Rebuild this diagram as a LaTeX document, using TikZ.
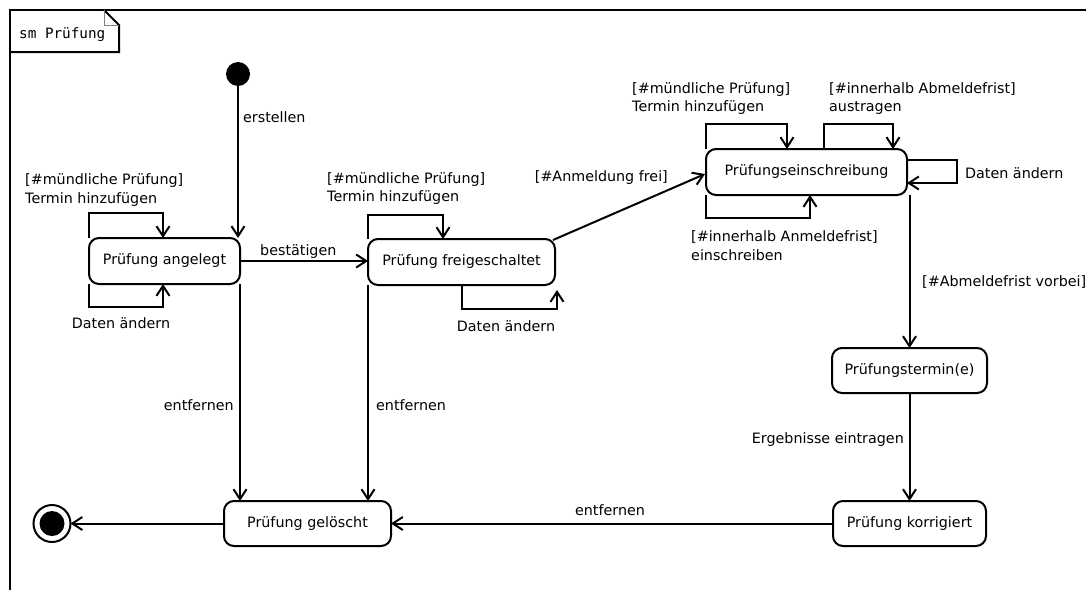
\documentclass[tikz,border=0pt]{standalone}
\usepackage{fontspec}
\setmainfont{DejaVu Sans}
\newfontfamily\tagfont{DejaVu Sans Mono}
\usetikzlibrary{arrows.meta,calc}
\begin{document}
\begin{tikzpicture}[x=1pt,y=-1pt,
  font=\fontsize{14.3}{18.5}\selectfont,
  state/.style={draw, line width=2pt, rounded corners=10pt, outer sep=0pt, inner sep=0pt, minimum height=46pt},
  arr/.style={line width=2pt, -{Straight Barb[length=10pt,width=13pt]}},
  lbl/.style={inner sep=0pt, align=left},
]
\useasboundingbox (0,0) rectangle (1086,590);
% frame
\draw[line width=2.5pt] (10,590) -- (10,10) -- (1086,10);
\draw[line width=2pt] (10,52) -- (119,52) -- (119,25) -- (104,10);
\draw[line width=0.8pt, gray] (104,10) -- (104,25) -- (119,25);
\node[anchor=west, inner sep=0pt, font=\tagfont\fontsize{14.3}{17}\selectfont] (tag) at (19,35) {sm Prüfung};

% states
\node[circle, fill, inner sep=0pt, minimum size=24pt] (ini) at (238,74) {};
\node[state, minimum width=151pt] (ang) at (164.5,261) {Prüfung angelegt};
\node[state, minimum width=187pt] (frei) at (461.5,262) {Prüfung freigeschaltet};
\node[state, minimum width=201pt] (ein) at (806.5,172) {Prüfungseinschreibung};
\node[state, minimum width=155pt, minimum height=45pt] (ter) at (909.5,370.5) {Prüfungstermin(e)};
\node[state, minimum width=153pt, minimum height=45pt] (kor) at (909.5,523.5) {Prüfung korrigiert};
\node[state, minimum width=167pt, minimum height=45pt] (gel) at (307.5,523.5) {Prüfung gelöscht};
\node[circle, draw, line width=2pt, minimum size=37pt, inner sep=0pt, outer sep=0pt] (fin) at (52,523.5) {};
\fill (fin.center) circle[radius=12.5pt];

% transitions
\draw[arr] (ini.south) -- (ini.south |- ang.north);
\draw[arr] (ang.east) -- (ang.east -| frei.west);
\draw[arr] (ang.south east) -- (ang.south east |- gel.north);
\draw[arr] (frei.south west) -- (frei.south west |- gel.north);
\draw[arr] ($(frei.north east)+(-2,1)$) -- ($(ein.west)+(-1,2)$);
\draw[arr] (ter.north |- ein.south) -- (ter.north);
\draw[arr] (ter.south) -- (kor.north);
\draw[arr] (kor.west) -- (kor.west -| gel.east);
\draw[arr] (gel.west) -- (gel.west -| fin.east);

% self loops
\draw[arr] (ang.north west) -- ++(0,-25) -| ($(ang.north west)+(74,0)$);
\draw[arr] (ang.south west) -- ++(0,23) -| ($(ang.south west)+(74,0)$);
\draw[arr] (frei.north west) -- ++(0,-24) -| ($(frei.north west)+(75,0)$);
\draw[arr] ($(frei.south west)+(94,0)$) -- ++(0,24) -| ($(frei.south east)+(2,5)$);
\draw[arr] (ein.north west) -- ++(0,-25) -| ($(ein.north west)+(81,0)$);
\draw[arr] ($(ein.north west)+(118,0)$) -- ++(0,-25) -| ($(ein.north west)+(187,0)$);
\draw[arr] ($(ein.north east)+(0,11)$) -- ++(50,0) |- ($(ein.north east)+(0,34)$);
\draw[arr] (ein.south west) -- ++(0,23) -| ($(ein.south west)+(104,0)$);

% labels
\node[lbl, anchor=west] (l1) at (243,117) {erstellen};
\node[lbl, anchor=west] (l2) at (25,190) {[\#mündliche Prüfung]\\Termin hinzufügen};
\node[lbl] (l3) at (121,323) {Daten ändern};
\node[lbl, anchor=west] (l4) at (260,252) {bestätigen};
\node[lbl, anchor=west] (l5) at (327,188.5) {[\#mündliche Prüfung]\\Termin hinzufügen};
\node[lbl] (l6) at (506,326) {Daten ändern};
\node[lbl, anchor=east] (l7) at (668,178) {[\#Anmeldung frei]};
\node[lbl, anchor=west] (l8) at (632,98.5) {[\#mündliche Prüfung]\\Termin hinzufügen};
\node[lbl, anchor=west] (l9) at (829,98.5) {[\#innerhalb Abmeldefrist]\\austragen};
\node[lbl, anchor=west] (l10) at (965,173) {Daten ändern};
\node[lbl, anchor=west] (l11) at (691,245.5) {[\#innerhalb Anmeldefrist]\\einschreiben};
\node[lbl, anchor=west] (l12) at (922,282) {[\#Abmeldefrist vorbei]};
\node[lbl, anchor=east] (l13) at (904,440) {Ergebnisse eintragen};
\node[lbl, anchor=east] (l14) at (234,405) {entfernen};
\node[lbl, anchor=west] (l15) at (376,405) {entfernen};
\node[lbl] (l16) at (610,510) {entfernen};
\end{tikzpicture}
\end{document}
